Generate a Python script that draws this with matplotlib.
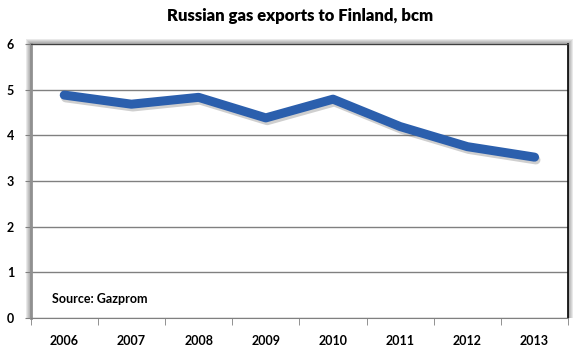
import numpy as np
import matplotlib.pyplot as plt
import matplotlib.patheffects as pe
from matplotlib.patches import Rectangle

years = ['2006', '2007', '2008', '2009', '2010', '2011', '2012', '2013']
exports = [4.88, 4.68, 4.83, 4.38, 4.79, 4.19, 3.75, 3.52]

plt.rcParams['font.family'] = ['Lato', 'DejaVu Sans']

fig = plt.figure(figsize=(5.78, 3.6), dpi=100)
ax_rect = [0.053, 0.117, 0.93, 0.761]
ax = fig.add_axes(ax_rect)
ax.set_facecolor('white')

# soft grey shadow round the plot area (left, top, right)
W, H = 578.0, 360.0
for i in range(5, 0, -1):
    dx = i / W
    dy = i / H
    fig.patches.append(Rectangle((ax_rect[0] - dx, ax_rect[1]), ax_rect[2] + 2 * dx,
                                 ax_rect[3] + dy, transform=fig.transFigure,
                                 facecolor='#505050', alpha=0.12, lw=0, zorder=-5))

x = np.arange(len(years))
ax.plot(x, exports, color='#2B5FAD', lw=6.5, solid_capstyle='round',
        solid_joinstyle='round', zorder=3,
        path_effects=[pe.SimpleLineShadow(offset=(1, -2), shadow_color='#606060', alpha=0.3),
                      pe.Normal()])

ax.set_xlim(-0.5, len(years) - 0.5)
ax.set_ylim(0, 6)
ax.set_yticks(range(7))
ax.yaxis.grid(True, color='#808080', lw=1)
ax.set_axisbelow(True)

ax.set_xticks(x)
ax.set_xticklabels(years, fontweight='bold', fontsize=9)
ax.set_xticks(np.arange(-0.5, len(years)), minor=True)
ax.tick_params(axis='x', which='major', length=0, pad=12)
ax.tick_params(axis='x', which='minor', length=5, color='#808080', direction='out')
ax.tick_params(axis='y', length=4, color='#808080', labelsize=9, pad=8)
for lab in ax.get_yticklabels():
    lab.set_fontweight('bold')

ax.spines['left'].set_color('#909090')
ax.spines['left'].set_linewidth(2)
ax.spines['bottom'].set_color('#808080')
ax.spines['top'].set_color('#404040')
ax.spines['right'].set_color('#000000')
ax.spines['right'].set_linewidth(1.2)

ax.text(0.04, 0.07, 'Source: Gazprom', transform=ax.transAxes,
        fontsize=9, fontweight='bold', va='center')

fig.text(0.52, 0.955, 'Russian gas exports to Finland, bcm', ha='center',
         va='center', fontsize=12, fontweight='heavy')

fig.savefig('out.png', dpi=100)
